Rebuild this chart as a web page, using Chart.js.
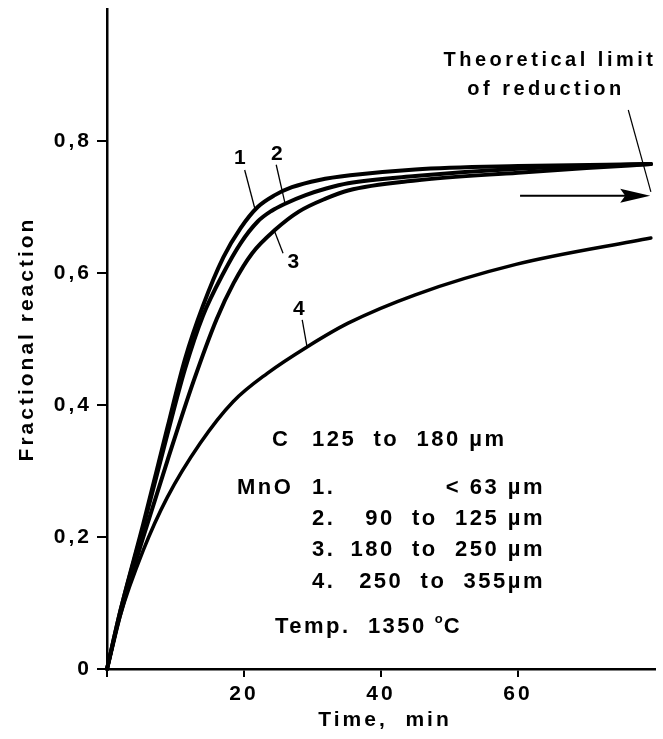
<!DOCTYPE html>
<html>
<head>
<meta charset="utf-8">
<script src="https://cdn.jsdelivr.net/npm/chart.js@4.4.1/dist/chart.umd.min.js"></script>
<style>
  html, body { margin: 0; padding: 0; background: #fff; }
  #wrap { width: 663px; height: 739px; }
</style>
</head>
<body>
<div id="wrap"><canvas id="chart" width="663" height="739"></canvas></div>
<script>
'use strict';

// ── Data ──────────────────────────────────────────────────────────────────────

const timeTicks = [0, 20, 40, 60];
const fracTicks = [0, 0.2, 0.4, 0.6, 0.8];
const timeMax   = 80;
const fracMax   = 1.0;

const curve1T = [0, 2, 5.3, 8.8, 11.4, 14, 17, 19.5, 22, 24.5, 27, 31, 35.5, 45, 60, 79.4];
const curve1V = [0, 0.09, 0.22, 0.365, 0.47, 0.55, 0.624, 0.668, 0.70, 0.718, 0.73, 0.741, 0.748, 0.757, 0.762, 0.765];

const curve2T = [0, 2, 5.3, 8.8, 11.4, 14, 17, 19.5, 22, 24, 26, 29, 32, 35.2, 45, 60, 79.4];
const curve2V = [0, 0.09, 0.215, 0.355, 0.455, 0.535, 0.60, 0.645, 0.678, 0.694, 0.705, 0.718, 0.728, 0.736, 0.747, 0.758, 0.765];

const curve3T = [0, 2, 5.3, 8.8, 12.6, 16, 18.5, 21.2, 24.5, 28, 32, 35.2, 45, 60, 70, 79.4];
const curve3V = [0, 0.085, 0.20, 0.315, 0.435, 0.53, 0.585, 0.63, 0.665, 0.693, 0.713, 0.725, 0.74, 0.752, 0.759, 0.765];

const curve4T = [0, 1.9, 5.3, 8.8, 13.6, 18.4, 23.4, 29.2, 35.2, 45, 59.7, 79.4];
const curve4V = [0, 0.08, 0.18, 0.26, 0.342, 0.405, 0.448, 0.488, 0.524, 0.567, 0.613, 0.653];

const curveNames = ['1', '2', '3', '4'];

// label text, label anchor (t, v), leader line from (t, v) to (t, v)
const curveLabels = [
  { text: '1', at: [19.4, 0.774], from: [20.1, 0.756], to: [21.6, 0.697] },
  { text: '2', at: [24.8, 0.780], from: [24.7, 0.764], to: [26.0, 0.705] },
  { text: '3', at: [27.2, 0.617], from: [24.5, 0.662], to: [25.7, 0.630] },
  { text: '4', at: [28.0, 0.545], from: [28.5, 0.529], to: [29.2, 0.488] },
];

const limitArrow  = { from: [60.3, 0.717], to: [79.3, 0.717] };
const limitLeader = { from: [76.1, 0.847], to: [79.4, 0.723] };
const limitText   = ['Theoretical limit', 'of reduction'];

const xTitle = 'Time,  min';
const yTitle = 'Fractional reaction';

const legendC    = ['C', '125  to  180 µm'];
const legendMnO  = ['1.', '< 63 µm', '2.', '90  to  125 µm', '3.', '180  to  250 µm', '4.', '250  to  355µm'];
const legendTemp = ['Temp.  1350', 'o', 'C'];

// ── Helpers ───────────────────────────────────────────────────────────────────

const FONT = '"Liberation Sans", Arial, sans-serif';
const pts  = (ts, vs) => ts.map((t, i) => ({ x: t, y: vs[i] }));

function fmtFrac(v) {
  if (Math.abs(v) < 1e-9) return '0';
  return v.toFixed(1).replace('.', ',');
}

function lineDs(data, width) {
  return {
    data,
    borderColor: '#000',
    borderWidth: width,
    pointRadius: 0,
    cubicInterpolationMode: 'monotone',
    borderCapStyle: 'round',
    borderJoinStyle: 'round',
    fill: false,
    clip: false,
  };
}

// ── Annotations plugin ────────────────────────────────────────────────────────

const annotations = {
  id: 'annotations',
  beforeDraw(chart) {
    // wide, spaced lettering of the original for the tick labels
    chart.ctx.letterSpacing = '3px';
  },
  afterDatasetsDraw(chart) {
    const { ctx, chartArea, scales: { x, y } } = chart;
    const px = p => [x.getPixelForValue(p[0]), y.getPixelForValue(p[1])];

    ctx.save();
    ctx.fillStyle = '#000';
    ctx.strokeStyle = '#000';
    ctx.textBaseline = 'middle';

    // axis titles
    ctx.letterSpacing = '3px';
    ctx.font = 'bold 21px ' + FONT;
    ctx.textAlign = 'center';
    ctx.fillText(xTitle, (chartArea.left + chartArea.right) / 2 + 4, 720);
    ctx.save();
    ctx.translate(27, (chartArea.top + chartArea.bottom) / 2);
    ctx.rotate(-Math.PI / 2);
    ctx.fillText(yTitle, 0, 0);
    ctx.restore();

    // curve numbers with leader lines
    ctx.letterSpacing = '0px';
    ctx.lineWidth = 1.3;
    ctx.font = 'bold 21px ' + FONT;
    curveLabels.forEach(l => {
      const a = px(l.from), b = px(l.to), c = px(l.at);
      ctx.beginPath();
      ctx.moveTo(a[0], a[1]);
      ctx.lineTo(b[0], b[1]);
      ctx.stroke();
      ctx.fillText(l.text, c[0], c[1]);
    });

    // theoretical limit arrow
    const a0 = px(limitArrow.from), a1 = px(limitArrow.to);
    ctx.lineWidth = 2;
    ctx.beginPath();
    ctx.moveTo(a0[0], a0[1]);
    ctx.lineTo(a1[0] - 20, a1[1]);
    ctx.stroke();
    ctx.beginPath();
    ctx.moveTo(a1[0], a1[1]);
    ctx.lineTo(a1[0] - 30, a1[1] - 7);
    ctx.lineTo(a1[0] - 25, a1[1]);
    ctx.lineTo(a1[0] - 30, a1[1] + 7);
    ctx.closePath();
    ctx.fill();

    const l0 = px(limitLeader.from), l1 = px(limitLeader.to);
    ctx.lineWidth = 1.2;
    ctx.beginPath();
    ctx.moveTo(l0[0], l0[1]);
    ctx.lineTo(l1[0], l1[1]);
    ctx.stroke();

    ctx.letterSpacing = '3.5px';
    ctx.font = 'bold 20px ' + FONT;
    ctx.fillText(limitText[0], 550, 60);
    ctx.fillText(limitText[1], 546, 89);

    // legend block
    ctx.letterSpacing = '2.5px';
    ctx.font = 'bold 22px ' + FONT;
    ctx.textAlign = 'left';
    ctx.fillText(legendC[0], 272, 440);
    ctx.fillText(legendC[1], 312, 440);
    ctx.fillText('MnO', 237, 488);
    const rows = [488, 519, 550, 582];
    for (let i = 0; i < 4; i++) {
      ctx.textAlign = 'left';
      ctx.fillText(legendMnO[i * 2], 312, rows[i]);
      ctx.textAlign = 'right';
      ctx.fillText(legendMnO[i * 2 + 1], 545, rows[i]);
    }

    // temperature, with a raised small "o" as the degree sign
    ctx.textAlign = 'left';
    ctx.fillText(legendTemp[0], 275, 627);
    let tx = 275 + ctx.measureText(legendTemp[0]).width + 8;
    ctx.font = 'bold 13px ' + FONT;
    ctx.letterSpacing = '0px';
    ctx.fillText(legendTemp[1], tx, 619);
    tx += ctx.measureText(legendTemp[1]).width + 1;
    ctx.font = 'bold 22px ' + FONT;
    ctx.fillText(legendTemp[2], tx, 627);

    ctx.restore();
  },
};

// ── Chart ─────────────────────────────────────────────────────────────────────

new Chart(document.getElementById('chart'), {
  type: 'line',
  data: {
    datasets: [
      lineDs(pts(curve1T, curve1V), 4),
      lineDs(pts(curve2T, curve2V), 4),
      lineDs(pts(curve3T, curve3V), 4),
      lineDs(pts(curve4T, curve4V), 3.5),
    ].map((d, i) => ({ ...d, label: curveNames[i] })),
  },
  options: {
    responsive: false,
    animation: false,
    layout: { padding: { left: 0, right: 8, top: 9, bottom: 0 } },
    plugins: { legend: { display: false }, tooltip: { enabled: false } },
    scales: {
      x: {
        type: 'linear',
        min: timeTicks[0],
        max: timeMax,
        afterBuildTicks: s => { s.ticks = timeTicks.map(v => ({ value: v })); },
        afterFit: s => { s.height = 70; s.paddingRight = 0; },
        border: { display: true, color: '#000', width: 2.5 },
        grid: { drawOnChartArea: false, color: '#000', tickLength: 8, lineWidth: 2 },
        ticks: {
          color: '#000',
          padding: 5,
          maxRotation: 0,
          font: { family: FONT, size: 21, weight: 'bold' },
          callback: v => (v === 0 ? '' : String(v)),
        },
      },
      y: {
        type: 'linear',
        min: fracTicks[0],
        max: fracMax,
        afterBuildTicks: s => { s.ticks = fracTicks.map(v => ({ value: v })); },
        afterFit: s => { s.width = 107; s.paddingTop = 0; },
        border: { display: true, color: '#000', width: 2.5 },
        grid: { drawOnChartArea: false, color: '#000', tickLength: 10, lineWidth: 2 },
        ticks: {
          color: '#000',
          padding: 5,
          font: { family: FONT, size: 21, weight: 'bold' },
          callback: v => fmtFrac(v),
        },
      },
    },
  },
  plugins: [annotations],
});
</script>
</body>
</html>
